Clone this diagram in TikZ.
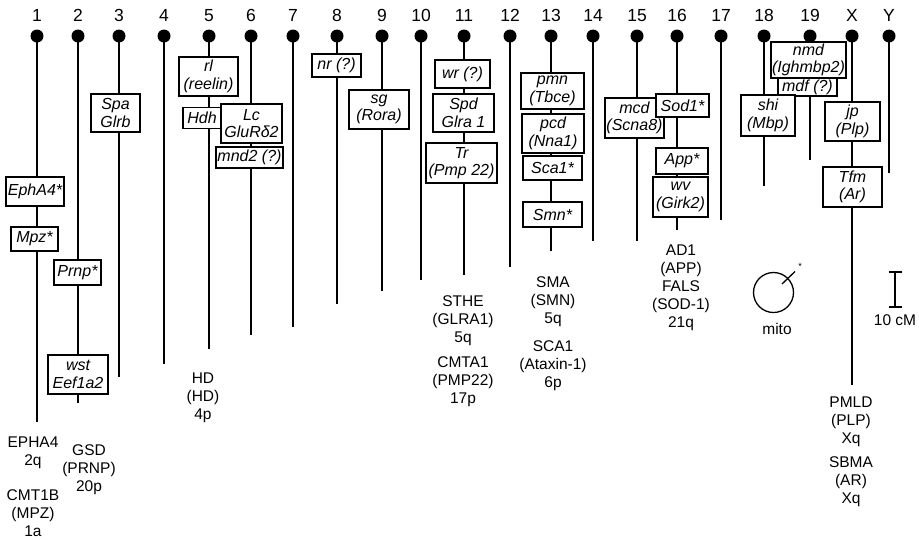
\documentclass[tikz,border=0pt]{standalone}
\usepackage{fontspec}
\setmainfont{Liberation Sans}
\usepackage{tikz}
\usetikzlibrary{positioning}

\newcommand{\chrnumfont}{\fontsize{17.5}{20}\selectfont}
\newcommand{\genefont}{\fontsize{16}{17.5}\selectfont\itshape}
\newcommand{\diseasefont}{\fontsize{15.5}{18}\selectfont}

\tikzset{
	chrom/.style={line width=1.8pt},
	centro/.style={circle, fill=black, inner sep=0pt, minimum size=13pt},
	gene/.style={draw, fill=white, line width=1.6pt, font=\genefont, align=center, inner sep=1pt},
	disease/.style={font=\diseasefont, align=center, inner sep=0pt},
}

\begin{document}
\begin{tikzpicture}[x=1pt, y=-1pt]
	\useasboundingbox (0,0) rectangle (919,539);

	% chromosomes: number, centromere dot, line down to its end
	\foreach \n/\xp/\yb in {1/37/422, 2/78/403, 3/119/377, 4/164/364, 5/209/349, 6/251/335, 7/293/327,
			8/337/304, 9/382/291, 10/421/280, 11/464/275, 12/510/267, 13/551/251, 14/593/241,
			15/637/241, 16/677/230, 17/721/220, 18/764/186, 19/810/160, X/852/385, Y/889/173}{
		\node[font=\chrnumfont, anchor=base] (n\n) at (\xp,21) {\n};
		\node[centro] (d\n) at (\xp,36) {};
		\coordinate (b\n) at (\xp,\yb);
		\draw[chrom] (d\n.center) -- (b\n);
	}

	% mapped loci
	\node[gene, minimum width=58pt, minimum height=29pt] (ephA) at (35,191.5) {EphA4*};
	\node[gene, minimum width=47pt, minimum height=24pt] (mpz) at (34.5,239) {Mpz*};
	\node[gene, minimum width=47pt, minimum height=25pt] (prnp) at (77.5,272.5) {Prnp*};
	\node[gene, minimum width=60pt, minimum height=39pt] (wst) at (78,374.5) {wst\\Eef1a2};
	\node[gene, minimum width=49pt, minimum height=38pt] (spa) at (115.5,113) {Spa\\Glrb};
	\node[gene, minimum width=59pt, minimum height=39pt] (rl) at (208.5,76.5) {rl\\(reelin)};
	\node[gene, minimum width=38pt, minimum height=21pt] (hdh) at (202,118) {Hdh};
	\node[gene, minimum width=61pt, minimum height=39pt] (lc) at (251.5,123.5) {Lc\\GluRδ2};
	\node[gene, minimum width=67pt, minimum height=21pt] (mnd) at (249.5,157.5) {mnd2 (?)};
	\node[gene, minimum width=49pt, minimum height=23pt] (nr) at (336.5,65.5) {nr (?)};
	\node[gene, minimum width=60pt, minimum height=39pt] (sg) at (379,109.5) {sg\\(Rora)};
	\node[gene, minimum width=55pt, minimum height=28pt] (wr) at (462.5,74) {wr (?)};
	\node[gene, minimum width=61pt, minimum height=38pt] (spd) at (463.5,113) {Spd\\Glra 1};
	\node[gene, minimum width=71pt, minimum height=40pt] (tr) at (461.5,163) {Tr\\(Pmp 22)};
	\node[gene, minimum width=63pt, minimum height=36pt] (pmn) at (552.5,91) {pmn\\(Tbce)};
	\node[gene, minimum width=62pt, minimum height=39pt] (pcd) at (553,133.5) {pcd\\(Nna1)};
	\node[gene, minimum width=59pt, minimum height=24pt] (sca) at (552.5,168) {Sca1*};
	\node[gene, minimum width=59pt, minimum height=25pt] (smn) at (552.5,214.5) {Smn*};
	\node[gene, minimum width=59pt, minimum height=40pt] (mcd) at (634.5,118) {mcd\\(Scna8)};
	\node[gene, minimum width=53pt, minimum height=23pt] (sod) at (682.5,105.5) {Sod1*};
	\node[gene, minimum width=52pt, minimum height=26pt] (app) at (682,161) {App*};
	\node[gene, minimum width=55pt, minimum height=40pt] (wv) at (680.5,197) {wv\\(Girk2)};
	\node[gene, minimum width=59pt, minimum height=18pt, inner sep=0pt] (mdf) at (807.5,87) {mdf (?)};
	\node[gene, minimum width=73pt, minimum height=36pt] (nmd) at (808.5,60) {nmd\\(Ighmbp2)};
	\node[gene, minimum width=54pt, minimum height=41pt] (shi) at (768,115.5) {shi\\(Mbp)};
	\node[gene, minimum width=55pt, minimum height=39pt] (jp) at (852.5,121.5) {jp\\(Plp)};
	\node[gene, minimum width=59pt, minimum height=40pt] (tfm) at (852.5,187) {Tfm\\(Ar)};

	% human disorders
	\node[disease] (epha) at (33,453) {EPHA4\\2q};
	\node[disease] (cmtb) at (33,513) {CMT1B\\(MPZ)\\1a};
	\node[disease] (gsd) at (89,470) {GSD\\(PRNP)\\20p};
	\node[disease] (hd) at (203,398) {HD\\(HD)\\4p};
	\node[disease] (sthe) at (463,321) {STHE\\(GLRA1)\\5q};
	\node[disease] (cmta) at (463,382) {CMTA1\\(PMP22)\\17p};
	\node[disease] (sma) at (553,302) {SMA\\(SMN)\\5q};
	\node[disease] (scaA) at (553,366) {SCA1\\(Ataxin-1)\\6p};
	\node[disease] (adone) at (681,288) {AD1\\(APP)\\FALS\\(SOD-1)\\21q};
	\node[disease] (pmld) at (851,422) {PMLD\\(PLP)\\Xq};
	\node[disease] (sbma) at (851,482) {SBMA\\(AR)\\Xq};

	% mitochondrial genome
	\draw[line width=1.3pt] (773.5,292.5) circle (20pt);
	\draw[line width=1.3pt] (782,284) -- (795,271.5);
	\node[font=\fontsize{9}{9}\selectfont, inner sep=0pt] (mitostar) at (800,266) {*};
	\node[disease] (mito) at (777,329) {mito};

	% scale bar
	\coordinate (sbtop) at (895,272);
	\coordinate (sbbot) at (895,307);
	\draw[line width=1.3pt] (sbtop) -- (sbbot);
	\draw[line width=1.3pt] ([xshift=-6.5pt]sbtop) -- ([xshift=6.5pt]sbtop);
	\draw[line width=1.3pt] ([xshift=-6.5pt]sbbot) -- ([xshift=6.5pt]sbbot);
	\node[disease] (cm) at (895,320) {10 cM};
\end{tikzpicture}
\end{document}
